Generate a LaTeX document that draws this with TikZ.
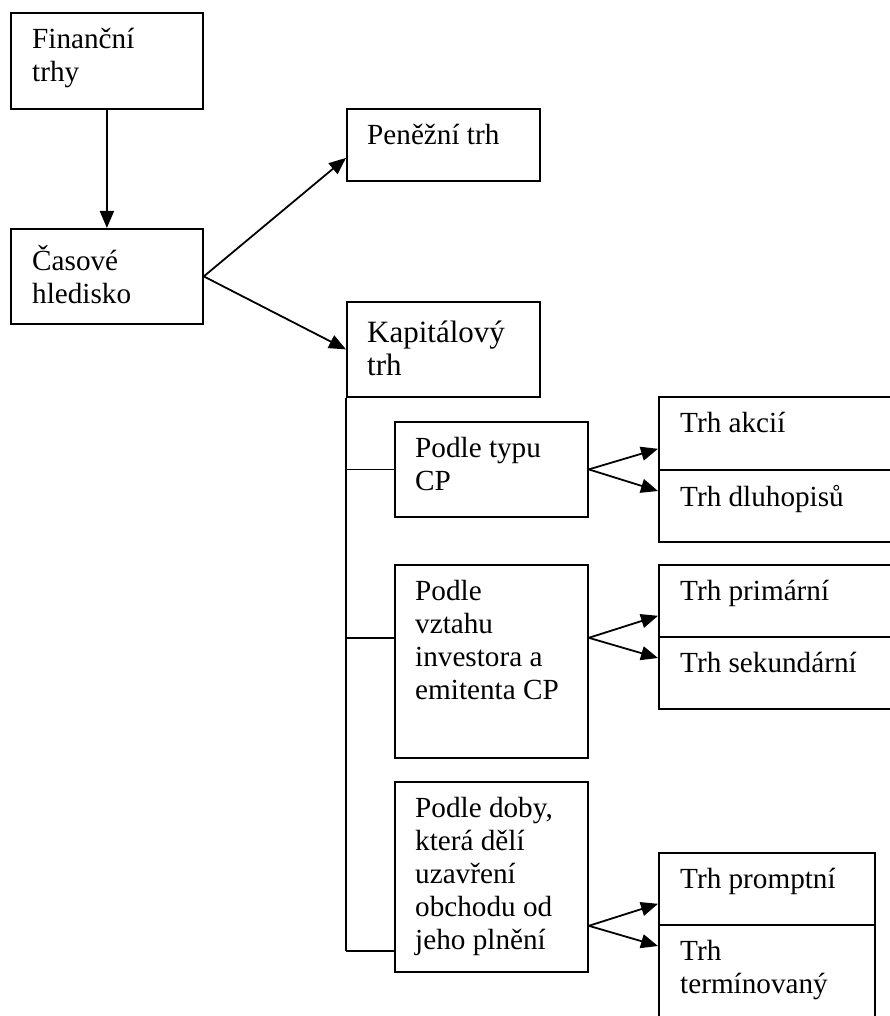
\documentclass[tikz,border=0pt]{standalone}
\usepackage{fontspec}
\setmainfont{Liberation Serif}
\usetikzlibrary{arrows.meta,calc}
\begin{document}
\begin{tikzpicture}[x=1pt,y=-1pt,
  frame/.style={draw=black,line width=1.8pt,rectangle,inner sep=0pt,anchor=north west},
  txt/.style={anchor=north west,inner sep=0pt,align=left,
    font=\fontsize{29.2}{33}\selectfont},
  bigtxt/.style={txt,font=\fontsize{31}{33}\selectfont},
  link/.style={line width=1.8pt,draw=black},
  arr/.style={link,-{Triangle[length=17pt,width=14pt]}}]
\useasboundingbox (0,0) rectangle (890,1016);
% left column
\node[frame,minimum width=192pt,minimum height=96pt] (fin) at (10,12) {};
\node[txt] (fint) at (32,28) {Finanční\\trhy};
\node[frame,minimum width=192pt,minimum height=95pt] (cas) at (10,228) {};
\node[txt] (cast) at (32,245) {Časové\\hledisko};
% money and capital market
\node[frame,minimum width=193pt,minimum height=72pt] (pen) at (346,108) {};
\node[txt] (pent) at (367,124) {Peněžní trh};
\node[frame,minimum width=193pt,minimum height=95pt] (kap) at (346,301) {};
\node[bigtxt] (kapt) at (367,321) {Kapitálový\\trh};
% criteria
\node[frame,minimum width=193pt,minimum height=95pt] (typ) at (394,421) {};
\node[txt] (typt) at (415,437) {Podle typu\\CP};
\node[frame,minimum width=193pt,minimum height=193pt] (vzt) at (394,564) {};
\node[txt] (vztt) at (415,580) {Podle\\vztahu\\investora a\\emitenta CP};
\node[frame,minimum width=193pt,minimum height=190pt] (dob) at (394,781) {};
\node[txt] (dobt) at (415,797) {Podle doby,\\která dělí\\uzavření\\obchodu od\\jeho plnění};
% market types
\node[frame,minimum width=240pt,minimum height=73pt] (akc) at (658,396) {};
\node[frame,minimum width=240pt,minimum height=72pt] (dlu) at (658,469) {};
\node[txt] (akct) at (680,412) {Trh akcií};
\node[txt] (dlut) at (680,485) {Trh dluhopisů};
\node[frame,minimum width=240pt,minimum height=72pt] (pri) at (658,564) {};
\node[frame,minimum width=240pt,minimum height=72pt] (sek) at (658,636) {};
\node[txt] (prit) at (680,580) {Trh primární};
\node[txt] (sekt) at (680,652) {Trh sekundární};
\node[frame,minimum width=216pt,minimum height=72pt] (pro) at (658,852) {};
\node[frame,minimum width=216pt,minimum height=110pt] (ter) at (658,924) {};
\node[txt] (prot) at (680,868) {Trh promptní};
\node[txt] (tert) at (680,940) {Trh\\termínovaný};
% connectors
\draw[arr] (fin.south) -- (cas.north);
\draw[arr] (cas.east) -- ([yshift=-13pt]pen.west);
\draw[arr] (cas.east) -- (kap.west);
\coordinate (d3) at ([yshift=22pt]dob.south west);
\coordinate (b1) at (kap.south west |- typ.west);
\coordinate (b2) at (kap.south west |- pri.south);
\coordinate (b3) at (kap.south west |- d3);
\draw[link] (kap.south west) -- (b3);
\draw[link] (b1) -- (typ.west);
\draw[link] (b2) -- (vzt.west |- pri.south);
\draw[link] (b3) -- (d3);
\draw[arr] (typ.east) -- ([yshift=22pt]akc.south west);
\draw[arr] (typ.east) -- ([yshift=-22pt]dlu.north west);
\draw[arr] (vzt.east |- pri.south) -- ([yshift=22pt]pri.south west);
\draw[arr] (vzt.east |- pri.south) -- ([yshift=-22pt]sek.north west);
\draw[arr] (dob.east |- pro.south) -- ([yshift=22pt]pro.south west);
\draw[arr] (dob.east |- pro.south) -- ([yshift=-22pt]ter.north west);
\end{tikzpicture}
\end{document}
